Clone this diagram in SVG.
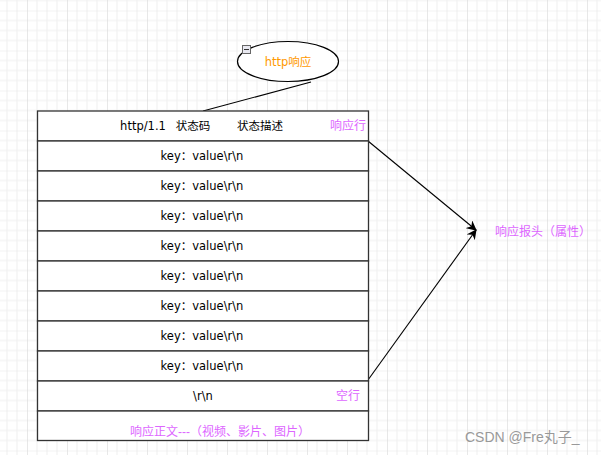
<svg xmlns="http://www.w3.org/2000/svg" width="601" height="455" viewBox="0 0 601 455">
<style>
.cell{fill:#ffffff;stroke:#333333;stroke-width:1.3}
.t{font-family:"DejaVu Sans","Noto Sans CJK SC",sans-serif;font-size:11.5px;fill:#000000;text-anchor:middle;dominant-baseline:central}
.p{font-family:"Liberation Sans","Noto Sans CJK SC",sans-serif;font-size:12px;fill:#dd66ff;dominant-baseline:central}
.edge{fill:none;stroke:#000000;stroke-width:1.1}
</style>
<defs>
<pattern id="grid" patternUnits="userSpaceOnUse" x="27" y="10.5" width="40" height="40">
<path d="M10 0V40M20 0V40M30 0V40M0 10H40M0 20H40M0 30H40" stroke="#efefef" stroke-width="1" fill="none"/>
<path d="M0 0H40" stroke="#e6e6e6" stroke-width="1.2" fill="none"/>
<path d="M0 0V40" stroke="#d8d8d8" stroke-width="1.2" fill="none"/>
</pattern>
<marker id="arr" viewBox="0 0 10 10" refX="9" refY="5" markerWidth="10" markerHeight="10" markerUnits="userSpaceOnUse" orient="auto">
<path d="M0 0L10 5L0 10L3 5Z" fill="#000000"/>
</marker>
</defs>
<rect width="601" height="455" fill="#ffffff"/>
<rect width="601" height="455" fill="url(#grid)"/>

<g id="connectors">
<path class="edge" d="M203 111L311 82"/>
<path class="edge" d="M368 141L476 230" marker-end="url(#arr)"/>
<path class="edge" d="M368 380L476 230" marker-end="url(#arr)"/>
</g>

<g id="ellipse-http">
<ellipse cx="288" cy="61.5" rx="50.5" ry="20" fill="#ffffff" stroke="#000000" stroke-width="1.2"/>
<rect x="242.5" y="45.5" width="8" height="8" fill="#e8e8f0" stroke="#666666" stroke-width="1"/>
<path d="M244 49.5H249" stroke="#333333" stroke-width="1"/>
<text x="288" y="61.5" class="t" style="fill:#ff9900">http响应</text>
</g>

<g id="row-status">
<rect class="cell" x="37.5" y="111" width="331" height="30"/>
<text class="t" x="143" y="126">http/1.1</text>
<text class="t" x="193" y="126">状态码</text>
<text class="t" x="260" y="126">状态描述</text>
<text class="p" x="330" y="126">响应行</text>
</g>
<g id="row-h1"><rect class="cell" x="37.5" y="141" width="331" height="30"/><text class="t" x="202" y="156">key：value\r\n</text></g>
<g id="row-h2"><rect class="cell" x="37.5" y="171" width="331" height="30"/><text class="t" x="202" y="186">key：value\r\n</text></g>
<g id="row-h3"><rect class="cell" x="37.5" y="201" width="331" height="30"/><text class="t" x="202" y="216">key：value\r\n</text></g>
<g id="row-h4"><rect class="cell" x="37.5" y="231" width="331" height="30"/><text class="t" x="202" y="246">key：value\r\n</text></g>
<g id="row-h5"><rect class="cell" x="37.5" y="261" width="331" height="30"/><text class="t" x="202" y="276">key：value\r\n</text></g>
<g id="row-h6"><rect class="cell" x="37.5" y="291" width="331" height="30"/><text class="t" x="202" y="306">key：value\r\n</text></g>
<g id="row-h7"><rect class="cell" x="37.5" y="321" width="331" height="30"/><text class="t" x="202" y="336">key：value\r\n</text></g>
<g id="row-h8"><rect class="cell" x="37.5" y="351" width="331" height="30"/><text class="t" x="202" y="366">key：value\r\n</text></g>
<g id="row-empty">
<rect class="cell" x="37.5" y="381" width="331" height="30"/>
<text class="t" x="203" y="396">\r\n</text>
<text class="p" x="336" y="396">空行</text>
</g>
<g id="row-body">
<rect class="cell" x="37.5" y="411" width="331" height="29.5"/>
<text class="p" x="220" y="431.5" style="text-anchor:middle">响应正文---（视频、影片、图片）</text>
</g>
<g id="label-headers">
<text class="p" x="495" y="231.5">响应报头（属性）</text>
</g>
<text x="465" y="437" font-family="'Liberation Sans','Noto Sans CJK SC',sans-serif" font-size="14" fill="#999999" dominant-baseline="central">CSDN @Fre丸子_</text>
</svg>
